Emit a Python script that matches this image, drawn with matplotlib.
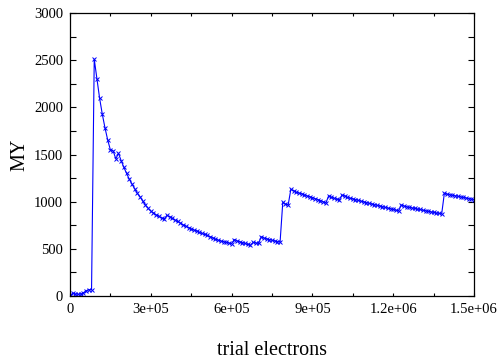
import numpy as np
import matplotlib
matplotlib.use("Agg")
import matplotlib.pyplot as plt
from matplotlib.ticker import MultipleLocator

# trial electrons sampled every 1e4
electrons = np.arange(0, 1500001, 10000)

# MY value at each sample
my_values = [
    5, 28, 22, 18, 20, 35, 55, 68, 65, 2510,
    2300, 2095, 1926, 1781, 1654, 1548, 1540, 1455, 1512, 1434,
    1364, 1300, 1240, 1187, 1137, 1088, 1052, 1007, 965, 930,
    900, 880, 860, 845, 825, 818, 855, 840, 825, 805,
    790, 772, 755, 740, 725, 712, 700, 689, 675, 663,
    652, 642, 630, 615, 603, 592, 583, 576, 570, 562,
    555, 598, 585, 574, 566, 557, 546, 538, 568, 562,
    557, 628, 615, 604, 598, 590, 583, 576, 571, 992,
    975, 965, 1131, 1115, 1100, 1092, 1083, 1072, 1062, 1053,
    1043, 1033, 1022, 1010, 1000, 985, 1060, 1048, 1035, 1025,
    1018, 1071, 1060, 1045, 1037, 1030, 1022, 1013, 1005, 998,
    990, 982, 975, 968, 960, 954, 947, 940, 932, 925,
    917, 910, 902, 965, 955, 945, 940, 934, 928, 922,
    917, 910, 905, 898, 892, 886, 880, 876, 870, 1090,
    1080, 1074, 1068, 1062, 1056, 1051, 1045, 1040, 1033, 1028,
    1022,
]

xtick_vals = [0, 300000, 600000, 900000, 1200000, 1500000]
xtick_labels = ["0", "3e+05", "6e+05", "9e+05", "1.2e+06", "1.5e+06"]
ytick_vals = [0, 500, 1000, 1500, 2000, 2500, 3000]

plt.rcParams['font.family'] = ['Liberation Serif', 'DejaVu Serif']

fig = plt.figure(figsize=(5.01, 3.61), dpi=100)
ax = fig.add_axes([70/501, 65/361, 404/501, 283/361])

ax.plot(electrons, my_values, color='#0000ff', linewidth=0.8,
        marker='x', markersize=3.2, markeredgewidth=0.7)

ax.set_xlim(0, 1500000)
ax.set_ylim(0, 3000)
ax.set_xticks(xtick_vals)
ax.set_xticklabels(xtick_labels)
ax.set_yticks(ytick_vals)
ax.xaxis.set_minor_locator(MultipleLocator(150000))
ax.yaxis.set_minor_locator(MultipleLocator(250))

ax.tick_params(axis='both', which='both', direction='in', top=True, right=True,
               labelsize=10.5, width=0.8)
ax.tick_params(axis='x', which='both', length=2.5, pad=5)
ax.tick_params(axis='y', which='both', length=4, pad=5)
for s in ax.spines.values():
    s.set_linewidth(0.9)

ax.set_xlabel("trial electrons", fontsize=14.5)
ax.set_ylabel("MY", fontsize=14.5)
ax.xaxis.set_label_coords(0.5, -0.16)
ax.yaxis.set_label_coords(-0.10, 0.5)

fig.savefig("out.png", dpi=100)
